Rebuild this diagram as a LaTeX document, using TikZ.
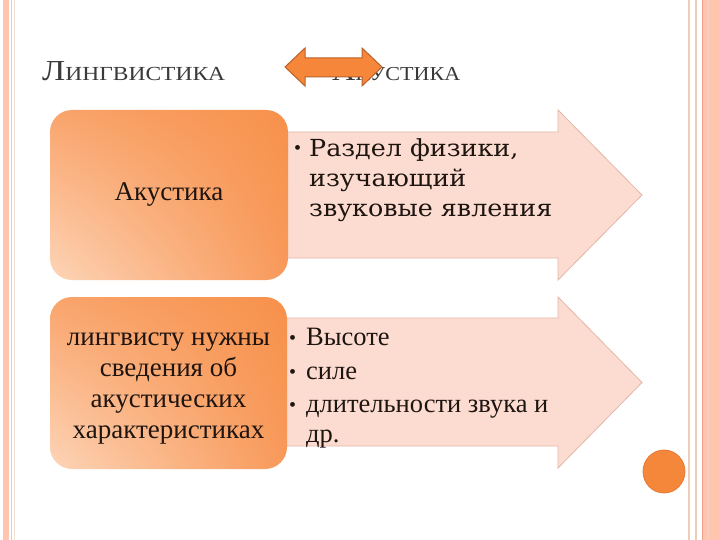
\documentclass[tikz,border=0pt]{standalone}
\usepackage{fontspec}
\usepackage{graphicx}
\usetikzlibrary{shadings}
\setmainfont{Liberation Serif}
\newfontfamily\wideserif[FakeStretch=1.08]{DejaVu Serif}
\definecolor{bordsalmon}{HTML}{FFC5AE}
\definecolor{bordline}{HTML}{EFA088}
\definecolor{bordtan}{HTML}{EBCDB8}
\definecolor{arrowfill}{HTML}{FCDCD1}
\definecolor{arrowdraw}{HTML}{E3B6A7}
\definecolor{dblfill}{HTML}{F5863A}
\definecolor{dbldraw}{HTML}{B9622B}
\definecolor{dotfill}{HTML}{F5873A}
\definecolor{dotdraw}{HTML}{E47A33}
\definecolor{titlegray}{HTML}{3A3A3A}
\definecolor{bodytext}{HTML}{1E1410}
\definecolor{boxUL}{HTML}{F9A46C}
\definecolor{boxUR}{HTML}{F7914B}
\definecolor{boxLL}{HTML}{FDD5B8}
\definecolor{boxLR}{HTML}{F8995A}
\tikzset{
  bigarrow/.style={fill=arrowfill, draw=arrowdraw, line width=0.8pt, line join=miter},
  orangebox/.style={rounded corners=22pt, upper left=boxUL, upper right=boxUR,
    lower left=boxLL, lower right=boxLR},
  boxtext/.style={font=\fontsize{27}{31}\selectfont, text=bodytext, align=center, inner sep=0pt},
  listtext/.style={font=\fontsize{26.5}{31}\selectfont, text=bodytext, anchor=base west, inner sep=0pt},
  widetext/.style={font=\wideserif\fontsize{23.5}{29}\selectfont, text=bodytext, anchor=base west, inner sep=0pt},
  bulletmark/.style={font=\fontsize{20}{24}\selectfont, text=bodytext, anchor=base west, inner sep=0pt},
  titletext/.style={text=titlegray, anchor=base west, inner sep=0pt}
}
\begin{document}
\begin{tikzpicture}[x=1pt,y=-1pt]
\useasboundingbox (0,0) rectangle (720,540);
\fill[white] (0,0) rectangle (720,540);
% page border
\fill[bordsalmon] (3,0) rectangle (9,540);
\draw[bordtan, line width=0.6pt] (11,0) -- (11,540);
\draw[bordtan!60, line width=0.6pt] (14,0) -- (14,540);
\draw[bordtan, line width=1.2pt] (689,0) -- (689,540);
\draw[bordtan, line width=1.2pt] (696,0) -- (696,540);
\fill[bordsalmon] (702,0) rectangle (720,540);
\draw[bordline, line width=1pt] (702.5,0) -- (702.5,540);
\draw[bordline!50, line width=0.6pt] (708,0) -- (708,540);

% titles
\node[titletext] (tl) at (42,81) {\resizebox{183pt}{19pt}{\fontsize{24}{28}\selectfont Л\fontsize{16.5}{20}\selectfont ИНГВИСТИКА}};
\node[titletext] (tr) at (332,81) {\resizebox{128pt}{19pt}{\fontsize{24}{28}\selectfont А\fontsize{16.5}{20}\selectfont КУСТИКА}};

% double arrow
\draw[fill=dblfill, draw=dbldraw, line width=1pt, line join=miter]
  (285,67) -- (305,48) -- (305,58) -- (362,58) -- (362,48) -- (382,67)
  -- (362,86) -- (362,77) -- (305,77) -- (305,86) -- cycle;

% big arrows
\draw[bigarrow] (280,132) -- (558,132) -- (558,110) -- (642,195) -- (558,280) -- (558,258) -- (280,258) -- cycle;
\draw[bigarrow] (280,318) -- (558,318) -- (558,297) -- (642,382.5) -- (558,468) -- (558,446) -- (280,446) -- cycle;

% rounded boxes
\shade[orangebox] (50,110) rectangle (288,280);
\shade[orangebox] (50,297) rectangle (287,469);

\node[boxtext] (akust) at (169,195) {Акустика};
\node[boxtext] (ling) at (168.5,389) {лингвисту нужны\\сведения об\\акустических\\характеристиках};

% top arrow text
\node[bulletmark] (b1) at (294,155) {•};
\node[widetext] (t1) at (309,157) {Раздел физики,};
\node[widetext] (t2) at (309,187) {изучающий};
\node[widetext] (t3) at (309,216) {звуковые явления};

% bottom arrow text
\node[bulletmark] (b2) at (289,344) {•};
\node[bulletmark] (b3) at (289,378) {•};
\node[bulletmark] (b4) at (289,411) {•};
\node[listtext] (l1) at (306,345) {Высоте};
\node[listtext] (l2) at (306,379) {силе};
\node[listtext] (l3) at (306,412) {длительности звука и};
\node[listtext] (l4) at (306,442) {др.};

% orange dot
\draw[fill=dotfill, draw=dotdraw, line width=0.8pt] (664,471.5) ellipse (21pt and 21.5pt);
\end{tikzpicture}
\end{document}
